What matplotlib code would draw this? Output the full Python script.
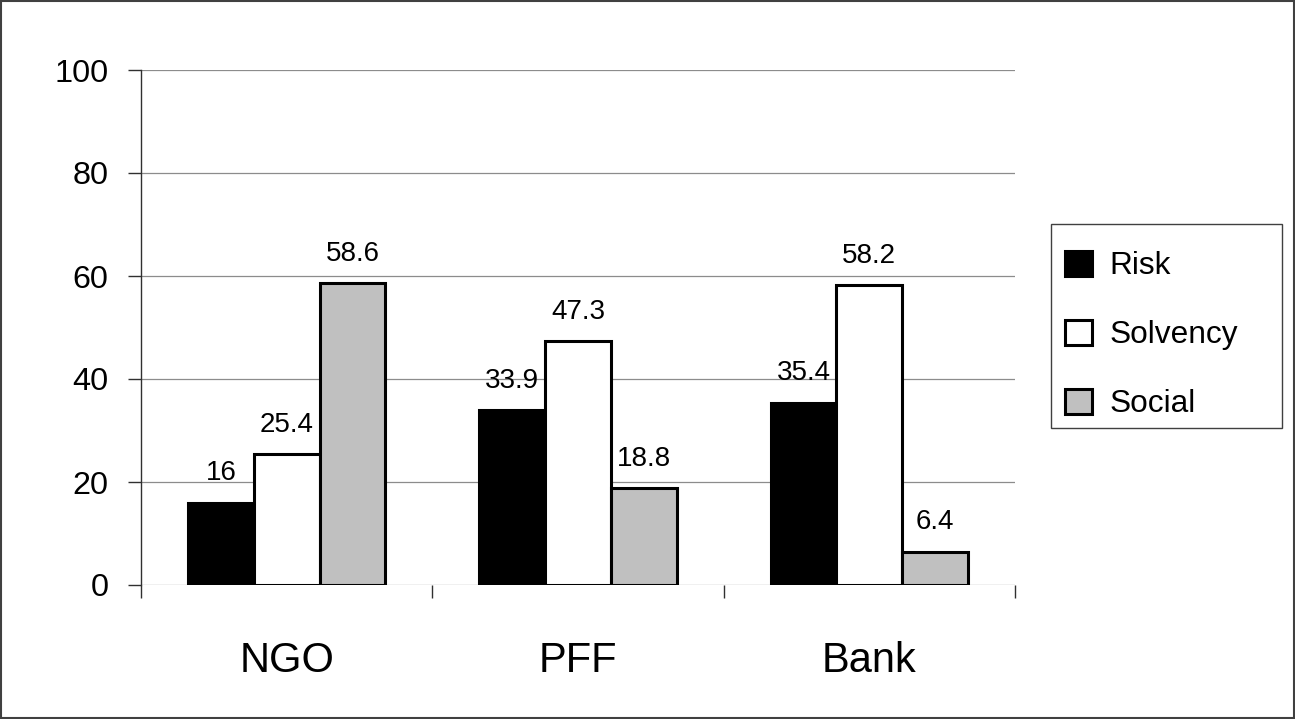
import matplotlib
matplotlib.use("Agg")
import matplotlib.pyplot as plt
from matplotlib.patches import Patch, Rectangle
import numpy as np

plt.rcParams["font.family"] = ["Liberation Sans", "DejaVu Sans"]

# Data
categories = ["NGO", "PFF", "Bank"]
series_names = ["Risk", "Solvency", "Social"]
risk = [16, 33.9, 35.4]
solvency = [25.4, 47.3, 58.2]
social = [58.6, 18.8, 6.4]
y_ticks = [0, 20, 40, 60, 80, 100]

values = [risk, solvency, social]
fills = ["#000000", "#FFFFFF", "#C0C0C0"]

W, H = 1295, 719
fig = plt.figure(figsize=(W / 100, H / 100), dpi=100)
fig.patch.set_facecolor("white")

# outer border of the chart area
fig.add_artist(Rectangle((1 / W, 1 / H), (W - 2) / W, (H - 2) / H,
                         transform=fig.transFigure, fill=False,
                         edgecolor="#404040", linewidth=1.5))

left, right, top, bottom = 141, 1015, 70, 585
ax = fig.add_axes([left / W, 1 - bottom / H, (right - left) / W, (bottom - top) / H])

x = np.arange(len(categories))
bw = 0.226
offsets = [-bw, 0, bw]
for vals, off, fc, name in zip(values, offsets, fills, series_names):
    ax.bar(x + off, vals, width=bw, color=fc, edgecolor="black",
           linewidth=2.2, zorder=3, label=name)
    for xi, v in zip(x + off, vals):
        ax.annotate(f"{v:g}", (xi, v), xytext=(0, 12), textcoords="offset points",
                    ha="center", va="bottom", fontsize=20, zorder=4)

ax.set_xlim(-0.5, len(categories) - 0.5)
ax.set_ylim(0, 100)
ax.set_yticks(y_ticks)
ax.set_yticklabels([str(t) for t in y_ticks], fontsize=23.3)
ax.tick_params(axis="y", length=9.4, width=1, color="#303030", pad=14, direction="out")

ax.set_xticks(x)
ax.set_xticklabels(categories, fontsize=30)
ax.set_xticks(np.arange(len(categories) + 1) - 0.5, minor=True)
ax.tick_params(axis="x", which="major", length=0, pad=40)
ax.tick_params(axis="x", which="minor", length=9.4, width=1, color="#303030", direction="out")

ax.grid(axis="y", color="#8C8C8C", linewidth=0.9, zorder=0)
ax.set_axisbelow(True)
for s in ["top", "right", "bottom"]:
    ax.spines[s].set_visible(False)
ax.spines["left"].set_color("#303030")
ax.spines["left"].set_linewidth(1)

# legend frame and entries
fig.add_artist(Rectangle((1051 / W, 1 - 428 / H), (1282 - 1051) / W, (428 - 224) / H,
                         transform=fig.transFigure, fill=False,
                         edgecolor="#404040", linewidth=1))
handles = [Patch(facecolor=fc, edgecolor="black", linewidth=2.2) for fc in fills]
fig.legend(handles, series_names, loc="center left",
           bbox_to_anchor=(1065 / W, 1 - 335 / H), frameon=False,
           fontsize=22.75, handlelength=0.85, handleheight=0.85,
           handletextpad=0.55, labelspacing=1.21, borderpad=0, borderaxespad=0)

fig.savefig("out.png", dpi=100, facecolor="white")
